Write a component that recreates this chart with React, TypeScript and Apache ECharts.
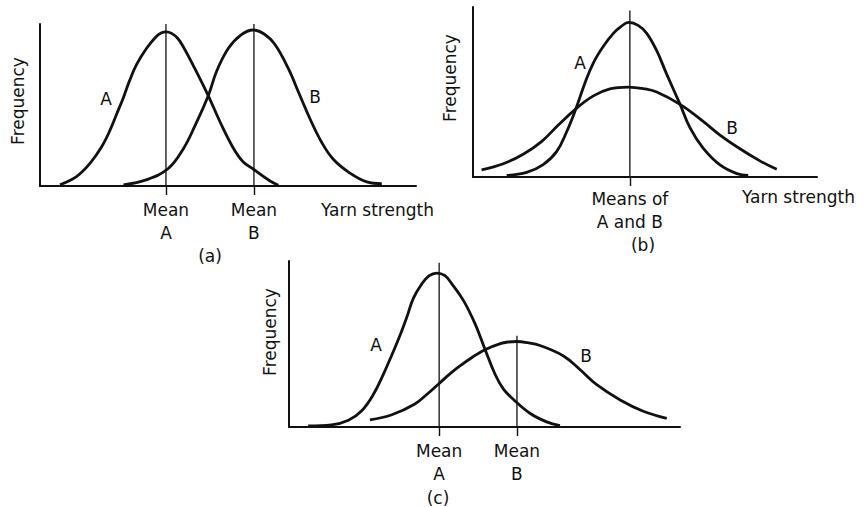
import React, { useEffect, useRef } from "react";
import * as echarts from "echarts";

// ---------- data (arbitrary units: x 0..100 yarn strength, y 0..100 frequency) ----------
// Panel (a): two curves with equal spread, different means
const aCurveA: [number, number][] = [
  [5.3, 0.8], [9.8, 6.0], [13.3, 14.0], [16.4, 24.2], [18.6, 34.3], [20.4, 44.5],
  [22.2, 54.7], [23.8, 64.9], [25.7, 75.1], [28.4, 85.2], [30.8, 92.0], [32.2, 94.5],
  [33.6, 95.2], [35.0, 94.2], [36.6, 91.2], [38.1, 86.0], [40.8, 74.2], [44.8, 55.5],
  [47.9, 39.5], [51.4, 23.5], [54.0, 15.0], [56.7, 10.5], [61.2, 3.1], [63.4, 0.5],
];
const aCurveB: [number, number][] = [
  [22.2, 0.7], [28.4, 3.9], [34.1, 10.8], [38.1, 22.9], [41.2, 37.1], [44.8, 56.0],
  [47.0, 71.0], [50.1, 85.0], [53.4, 93.2], [56.7, 96.3], [59.8, 93.5], [62.5, 87.3],
  [66.0, 72.7], [69.1, 56.0], [71.8, 41.5], [74.9, 27.0], [78.0, 16.5], [82.4, 8.0],
  [86.9, 2.5], [90.9, 1.4],
];
const aMeans = [33.5, 56.9];
const aMeanTops = [100, 100];
const aMeanLabels = ["Mean\nA", "Mean\nB"];

// Panel (b): same mean, different spread
const bCurveA: [number, number][] = [
  [9.8, 0.9], [15.6, 2.7], [20.4, 7.3], [24.3, 14.9], [27.2, 26.5], [29.9, 40.1],
  [32.6, 55.6], [35.0, 67.2], [37.9, 76.9], [40.8, 84.5], [43.0, 88.5], [45.3, 90.9],
  [48.0, 89.2], [50.5, 84.5], [53.4, 74.3], [56.3, 60.5], [60.2, 42.7], [63.1, 28.9],
  [66.9, 17.0], [71.8, 7.1], [76.7, 2.0], [80.0, 0.9],
];
const bCurveB: [number, number][] = [
  [2.5, 4.2], [8.8, 7.8], [14.6, 13.4], [20.0, 21.0], [24.8, 30.6], [29.9, 40.1],
  [35.0, 47.7], [39.8, 51.8], [45.1, 52.9], [49.5, 52.0], [53.4, 50.0], [60.2, 42.7],
  [66.9, 32.7], [71.8, 24.7], [77.6, 16.6], [83.4, 9.5], [88.3, 4.5],
];
const bMeans = [45.6];
const bMeanTops = [98];
const bMeanLabels = ["Means of\nA and B"];

// Panel (c): different means and spreads
const cCurveA: [number, number][] = [
  [4.9, 0.7], [10.9, 1.3], [15.2, 4.1], [18.6, 9.8], [21.6, 19.7], [24.1, 31.6],
  [26.3, 43.4], [28.4, 55.3], [30.1, 66.0], [31.8, 77.5], [33.9, 86.0], [35.8, 91.0],
  [37.8, 92.7], [39.8, 91.3], [41.6, 86.4], [44.6, 76.3], [47.6, 62.1], [50.1, 47.0],
  [52.7, 31.8], [54.8, 23.0], [57.4, 16.6], [61.6, 8.3], [65.9, 3.1], [69.3, 0.8],
];
const cCurveB: [number, number][] = [
  [20.7, 4.3], [26.3, 7.4], [32.2, 13.9], [35.6, 20.3], [38.2, 25.8], [41.6, 32.9],
  [44.2, 37.6], [46.7, 41.7], [50.1, 46.6], [54.0, 50.2], [56.0, 51.2], [58.2, 51.5],
  [61.0, 50.8], [64.2, 49.1], [70.2, 42.8], [74.4, 34.6], [78.7, 25.5], [84.7, 16.3],
  [90.6, 9.5], [96.6, 5.2],
];
const cMeans = [38.4, 58.3];
const cMeanTops = [99, 55];
const cMeanLabels = ["Mean\nA", "Mean\nB"];

const xAxisName = "Yarn strength";
const yAxisName = "Frequency";

// ---------- styling ----------
const FONT = "DejaVu Sans";
const INK = "#111";
const FS = 17;

function makeX(
  gridIndex: number,
  means: number[],
  labels: string[],
  name: string,
  nameGap: number,
  nameLH: number,
  margin: number
) {
  return {
    type: "value",
    gridIndex,
    min: 0,
    max: 100,
    name,
    nameLocation: "end",
    nameGap,
    nameTextStyle: {
      color: INK, fontFamily: FONT, fontSize: FS, align: "left",
      verticalAlign: "top", lineHeight: nameLH,
    },
    axisLine: { show: true, onZero: false, lineStyle: { color: INK, width: 2 } },
    axisTick: {
      show: true, customValues: means, inside: false, length: 9,
      lineStyle: { color: INK, width: 1.4 },
    },
    axisLabel: {
      show: true,
      customValues: means,
      margin,
      color: INK,
      fontFamily: FONT,
      fontSize: FS,
      lineHeight: 23,
      formatter: (v: number) => {
        let best = 0;
        means.forEach((m, i) => {
          if (Math.abs(m - v) < Math.abs(means[best] - v)) best = i;
        });
        return labels[best];
      },
    },
    splitLine: { show: false },
  };
}

function makeY(gridIndex: number, nameGap: number, shiftUp: number) {
  return {
    type: "value",
    gridIndex,
    min: 0,
    max: 100,
    name: yAxisName,
    nameLocation: "middle",
    nameRotate: 90,
    nameGap,
    nameTextStyle: {
      color: INK, fontFamily: FONT, fontSize: FS, lineHeight: 20,
      padding: [0, 0, 0, shiftUp * 2],
    },
    axisLine: { show: true, lineStyle: { color: INK, width: 2 } },
    axisTick: { show: false },
    axisLabel: { show: false },
    splitLine: { show: false },
  };
}

function curve(idx: number, data: [number, number][]) {
  return {
    type: "line",
    xAxisIndex: idx,
    yAxisIndex: idx,
    data,
    smooth: 0.4,
    symbol: "none",
    silent: true,
    clip: false,
    lineStyle: { color: INK, width: 2.8 },
  };
}

function meanLines(idx: number, means: number[], tops: number[]) {
  return means.map((m, i) => ({
    type: "line",
    xAxisIndex: idx,
    yAxisIndex: idx,
    data: [[m, 0], [m, tops[i]]],
    symbol: "none",
    silent: true,
    clip: false,
    lineStyle: { color: INK, width: 1.3 },
  }));
}

function txt(text: string, x: number, y: number) {
  return {
    type: "text",
    x,
    y,
    silent: true,
    style: {
      text,
      fill: INK,
      font: `${FS}px "${FONT}"`,
      align: "center",
      verticalAlign: "middle",
    },
  };
}

export default function App() {
  const ref = useRef<HTMLDivElement>(null);

  useEffect(() => {
    if (!ref.current) return;
    const chart = echarts.init(ref.current, null, { renderer: "svg" });
    const option: any = {
      animation: false,
      backgroundColor: "#ffffff",
      grid: [
        { left: 40, top: 24, width: 376, height: 162, outerBoundsMode: "none" },
        { left: 473, top: 7, width: 344, height: 170, outerBoundsMode: "none" },
        { left: 289, top: 261, width: 391, height: 166, outerBoundsMode: "none" },
      ],
      xAxis: [
        makeX(0, aMeans, aMeanLabels, xAxisName, -95, 48, 12),
        makeX(1, bMeans, bMeanLabels, xAxisName, -75, 40, 10),
        makeX(2, cMeans, cMeanLabels, "", 0, 20, 12),
      ],
      yAxis: [makeY(0, 12, 4), makeY(1, 13, 14), makeY(2, 9, 12)],
      series: [
        curve(0, aCurveA),
        curve(0, aCurveB),
        ...meanLines(0, aMeans, aMeanTops),
        curve(1, bCurveA),
        curve(1, bCurveB),
        ...meanLines(1, bMeans, bMeanTops),
        curve(2, cCurveA),
        curve(2, cCurveB),
        ...meanLines(2, cMeans, cMeanTops),
      ],
      graphic: [
        txt("A", 106, 99),
        txt("B", 315, 97),
        txt("(a)", 210, 256),
        txt("A", 580, 63),
        txt("B", 732, 128),
        txt("(b)", 643, 245),
        txt("A", 376, 345),
        txt("B", 586, 356),
        txt("(c)", 438, 498),
      ],
    };
    chart.setOption(option);
    return () => chart.dispose();
  }, []);

  return (
    <div
      ref={ref}
      style={{
        position: "fixed",
        left: 0,
        top: 0,
        width: 865,
        height: 507,
        background: "#fff",
      }}
    />
  );
}
